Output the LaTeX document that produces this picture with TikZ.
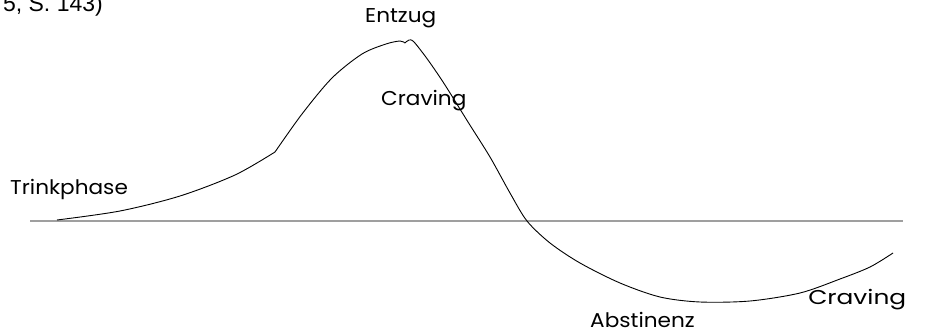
\documentclass[tikz,border=0pt]{standalone}
\usepackage{fontspec}
\setmainfont{Poppins}
\newfontfamily\quellfont{Liberation Sans}
\tikzset{
  lbl/.style={font=\fontsize{20}{22}\selectfont, inner sep=0pt, xscale=1.08},
  kurve/.style={black, line width=0.9pt},
}
\begin{document}
\begin{tikzpicture}[x=1pt, y=-1pt]
  \def\pw{928} \def\ph{334} \def\bl{221}
  \useasboundingbox (0,0) rectangle (\pw,\ph);
  \begin{scope}
    \clip (0,0) rectangle (\pw,\ph);
    \node[anchor=base east, inner sep=0pt, font=\quellfont\fontsize{23}{26}\selectfont] (quelle) at (103,12) {5, S. 143)};
  \end{scope}
  % Nulllinie
  \draw[gray!75, line width=1.3pt] (30,\bl) -- (903,\bl);
  % Verlauf
  \draw[kurve] plot[smooth, tension=0.5] coordinates {(57,220) (120,211) (180,196) (235,175) (275,152)};
  \draw[kurve] plot[smooth, tension=0.5] coordinates {(275,152) (302,114) (332,78) (362,54) (386,44) (400,41) (405,43)};
  \draw[kurve] plot[smooth, tension=0.5] coordinates {(405,43) (409,40) (414,42) (428,60) (445,85) (468,122) (490,157) (510,193) (527,221)
    (550,243) (580,263) (620,283) (660,297) (700,302) (750,301) (800,293) (840,279) (870,267) (893,253)};
  % Beschriftung
  \node[lbl, anchor=west] (entzug) at (365,18) {Entzug};
  \node[lbl, anchor=west] (craving1) at (381,101) {Craving};
  \node[lbl, anchor=west] (trink) at (10,189) {Trinkphase};
  \node[lbl, anchor=west] (abst) at (590,320) {Abstinenz};
  \node[lbl, anchor=west, xscale=1.15] (craving2) at (808,300) {Craving};
\end{tikzpicture}
\end{document}
